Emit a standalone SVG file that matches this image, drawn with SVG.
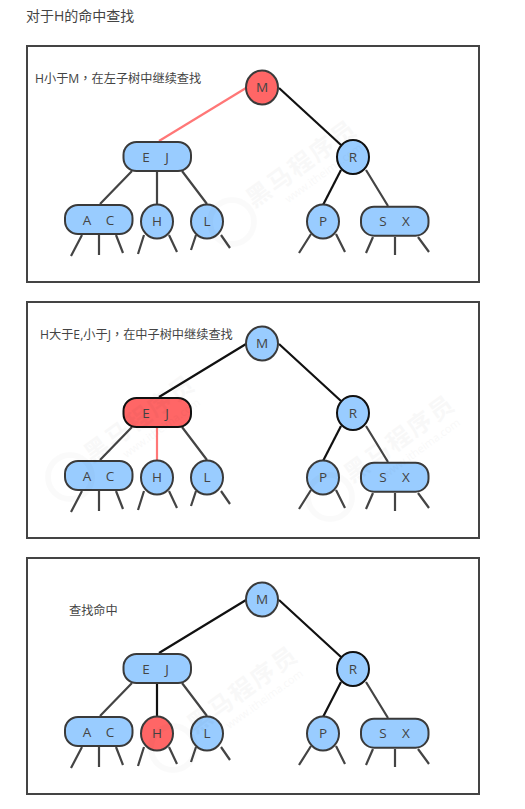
<svg xmlns="http://www.w3.org/2000/svg" width="525" height="809" viewBox="0 0 525 809">
<style>
text{font-family:"Open Sans","Noto Sans CJK SC",sans-serif;fill:#444}
.lb{font-size:13.500px;text-anchor:middle}
.cap{font-size:12.200px}
.cm{font-family:"Noto Sans CJK TC",sans-serif}
.n{stroke:#3a3a3a;stroke-width:2;fill:#99ccff}
.hot{fill:#ff6666}
.box{fill:#fff;stroke:#444;stroke-width:2}
.e{stroke:#444;stroke-width:2.200;fill:none}
.k{stroke:#111}
.r{stroke:#ff7777}
.wm{fill:#000;opacity:.022;font-weight:bold;font-size:24px;letter-spacing:2px}
.wm2{fill:#000;opacity:.022;font-size:11px;text-anchor:end}
.wc{fill:none;stroke:#000;stroke-width:6;opacity:.018}
</style>
<defs>
<g id="wmark"><circle class="wc" cx="-27" cy="27" r="22"/><g transform="rotate(-36)"><text class="wm" x="-12" y="8">黑马程序员</text><text class="wm2" x="111" y="24">www.itheima.com</text></g></g>
</defs>
<rect width="525" height="809" fill="#fff"/>
<text x="26" y="21" font-size="14">对于H的命中查找</text>
<g id="panel1-frame"><rect class="box" x="27" y="46" width="452" height="236"/></g>
<g id="panel2-frame"><rect class="box" x="27" y="302" width="452" height="236"/></g>
<g id="panel3-frame"><rect class="box" x="27" y="558" width="452" height="236"/></g>
<g id="connectors">
<path class="e r" d="M246 88L159 141"/><path class="e k" d="M279 88L341 145"/>
<path class="e" d="M132 171L100 204M182 171L207 204M366 170L388 206"/><path class="e" d="M157 171V204"/><path class="e k" d="M341 170L323 205"/>
<path class="e" d="M82 235L71 256M99 235V255M116 235L123 253M144 235L138 254M169 235L177 252M196 235L191 250M221 235L230 248M311 234L299 253M336 234L345 252M373 237L366 253M395 237V255M418 237L429 252"/>

<path class="e k" d="M246 344L159 397M279 344L341 401"/>
<path class="e" d="M132 427L100 460M182 427L207 460M366 426L388 462"/><path class="e r" d="M157 427V460"/><path class="e k" d="M341 426L323 461"/>
<path class="e" d="M82 491L71 512M99 491V511M116 491L123 509M144 491L138 510M169 491L177 508M196 491L191 506M221 491L230 504M311 490L299 509M336 490L345 508M373 493L366 509M395 493V511M418 493L429 508"/>

<path class="e k" d="M246 600L159 653M279 600L341 657"/>
<path class="e" d="M132 683L100 716M182 683L207 716M366 682L388 718"/><path class="e k" d="M157 683V716M341 682L323 717"/>
<path class="e" d="M82 747L71 768M99 747V767M116 747L123 765M144 747L138 766M169 747L177 764M196 747L191 762M221 747L230 760M311 746L299 765M336 746L345 764M373 749L366 765M395 749V767M418 749L429 764"/>
</g>
<g id="caption1"><text class="cap" x="35" y="83">H小于M<tspan class="cm">，</tspan>在左子树中继续查找</text></g>
<g id="caption2"><text class="cap" x="40" y="339">H大于E,小于J<tspan class="cm">，</tspan>在中子树中继续查找</text></g>
<g id="caption3"><text class="cap" x="69" y="614.500">查找命中</text></g>

<g id="p1-M"><ellipse class="n hot" cx="262" cy="87.500" rx="16" ry="17"/><text class="lb" x="262" y="92">M</text></g>
<g id="p1-EJ"><rect class="n" x="123.500" y="142" width="67.500" height="29" rx="13"/><text class="lb" x="146" y="161.500">E</text><text class="lb" x="167" y="161.500">J</text></g>
<g id="p1-R"><ellipse class="n k" cx="353" cy="157" rx="16" ry="17"/><text class="lb" x="353" y="161.500">R</text></g>
<g id="p1-AC"><rect class="n" x="65" y="205" width="67.500" height="29" rx="13"/><text class="lb" x="87" y="225">A</text><text class="lb" x="110" y="224.500">C</text></g>
<g id="p1-H"><ellipse class="n" cx="157" cy="221.500" rx="16" ry="17"/><text class="lb" x="157" y="226">H</text></g>
<g id="p1-L"><ellipse class="n" cx="207" cy="221.500" rx="16" ry="17"/><text class="lb" x="207" y="226">L</text></g>
<g id="p1-P"><ellipse class="n" cx="323" cy="221.500" rx="16" ry="17"/><text class="lb" x="323" y="226">P</text></g>
<g id="p1-SX"><rect class="n" x="361" y="206.700" width="67.500" height="29" rx="13"/><text class="lb" x="383" y="226">S</text><text class="lb" x="406" y="226">X</text></g>

<g id="p2-M"><ellipse class="n" cx="262" cy="343.500" rx="16" ry="17"/><text class="lb" x="262" y="348">M</text></g>
<g id="p2-EJ"><rect class="n hot k" x="123.500" y="398" width="67.500" height="29" rx="13"/><text class="lb" x="146" y="417.500">E</text><text class="lb" x="167" y="417.500">J</text></g>
<g id="p2-R"><ellipse class="n k" cx="353" cy="413" rx="16" ry="17"/><text class="lb" x="353" y="417.500">R</text></g>
<g id="p2-AC"><rect class="n" x="65" y="461" width="67.500" height="29" rx="13"/><text class="lb" x="87" y="481">A</text><text class="lb" x="110" y="480.500">C</text></g>
<g id="p2-H"><ellipse class="n" cx="157" cy="477.500" rx="16" ry="17"/><text class="lb" x="157" y="482">H</text></g>
<g id="p2-L"><ellipse class="n" cx="207" cy="477.500" rx="16" ry="17"/><text class="lb" x="207" y="482">L</text></g>
<g id="p2-P"><ellipse class="n" cx="323" cy="477.500" rx="16" ry="17"/><text class="lb" x="323" y="482">P</text></g>
<g id="p2-SX"><rect class="n" x="361" y="462.700" width="67.500" height="29" rx="13"/><text class="lb" x="383" y="482">S</text><text class="lb" x="406" y="482">X</text></g>

<g id="p3-M"><ellipse class="n" cx="262" cy="599.500" rx="16" ry="17"/><text class="lb" x="262" y="604">M</text></g>
<g id="p3-EJ"><rect class="n" x="123.500" y="654" width="67.500" height="29" rx="13"/><text class="lb" x="146" y="673.500">E</text><text class="lb" x="167" y="673.500">J</text></g>
<g id="p3-R"><ellipse class="n k" cx="353" cy="669" rx="16" ry="17"/><text class="lb" x="353" y="673.500">R</text></g>
<g id="p3-AC"><rect class="n" x="65" y="717" width="67.500" height="29" rx="13"/><text class="lb" x="87" y="737">A</text><text class="lb" x="110" y="736.500">C</text></g>
<g id="p3-H"><ellipse class="n hot" cx="157" cy="733.500" rx="16" ry="17"/><text class="lb" x="157" y="738">H</text></g>
<g id="p3-L"><ellipse class="n" cx="207" cy="733.500" rx="16" ry="17"/><text class="lb" x="207" y="738">L</text></g>
<g id="p3-P"><ellipse class="n" cx="323" cy="733.500" rx="16" ry="17"/><text class="lb" x="323" y="738">P</text></g>
<g id="p3-SX"><rect class="n" x="361" y="718.700" width="67.500" height="29" rx="13"/><text class="lb" x="383" y="738">S</text><text class="lb" x="406" y="738">X</text></g>
<g id="watermarks">
<use href="#wmark" x="259" y="195"/>
<use href="#wmark" x="97" y="450"/>
<use href="#wmark" x="357" y="470"/>
<use href="#wmark" x="200" y="721"/>
</g>
</svg>
